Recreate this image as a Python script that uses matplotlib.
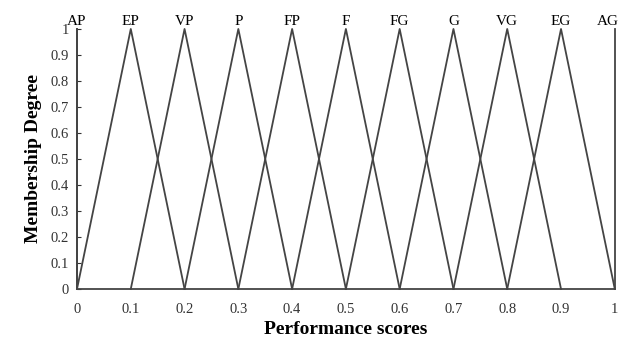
import numpy as np
import matplotlib.pyplot as plt

plt.rcParams['font.family'] = ['Liberation Serif', 'DejaVu Serif']

terms = ["AP", "EP", "VP", "P", "FP", "F", "FG", "G", "VG", "EG", "AG"]
centers = [0.0, 0.1, 0.2, 0.3, 0.4, 0.5, 0.6, 0.7, 0.8, 0.9, 1.0]
width = 0.1
x_ticks = [0, 0.1, 0.2, 0.3, 0.4, 0.5, 0.6, 0.7, 0.8, 0.9, 1]
y_ticks = [0, 0.1, 0.2, 0.3, 0.4, 0.5, 0.6, 0.7, 0.8, 0.9, 1]

fig = plt.figure(figsize=(6.21, 3.49), dpi=100)
ax = fig.add_axes([0.124, 0.172, 0.866, 0.745])

for name, c in zip(terms, centers):
    if c == 0 or c == 1:
        # crisp end sets: just a vertical line
        xs, ys = [c, c], [0, 1]
    else:
        xs, ys = [c - width, c, c + width], [0, 1, 0]
    ax.plot(xs, ys, color="#444444", lw=1.3, clip_on=False)
    ha = "center"
    tx = c
    if c == 1:
        ha, tx = "right", 1.008
    ax.text(tx, 1.005, name, ha=ha, va="bottom", fontsize=11)

ax.set_xlim(0, 1)
ax.set_ylim(0, 1)
ax.set_xticks(x_ticks)
ax.set_xticklabels([f"{v:g}" for v in x_ticks])
ax.set_yticks(y_ticks)
ax.set_yticklabels([f"{v:g}" for v in y_ticks])
ax.tick_params(axis="both", direction="in", length=3, labelsize=10.5, colors="#333333")
ax.tick_params(axis="x", length=0, pad=10)
ax.tick_params(axis="y", pad=6)
for s in ["top", "right"]:
    ax.spines[s].set_visible(False)
for s in ["left", "bottom"]:
    ax.spines[s].set_color("#444444")
    ax.spines[s].set_linewidth(1.3)

ax.set_xlabel("Performance scores", fontsize=14, fontweight="bold", labelpad=4)
ax.set_ylabel("Membership Degree", fontsize=14, fontweight="bold", labelpad=6)

fig.savefig("out.png", dpi=100)
